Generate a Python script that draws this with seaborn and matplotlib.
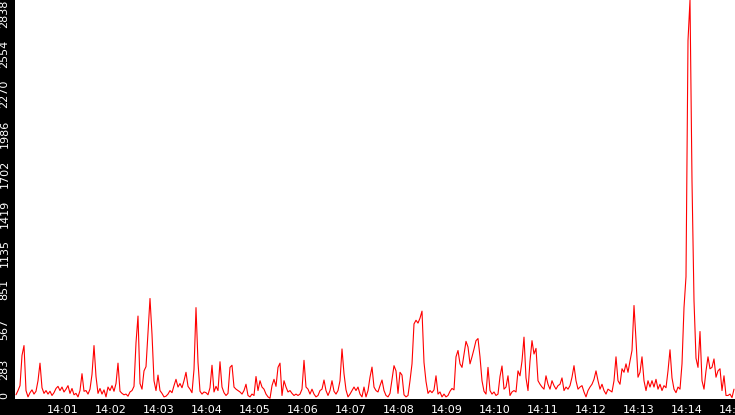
import numpy as np
import pandas as pd
import matplotlib
matplotlib.use('Agg')
import matplotlib.pyplot as plt
import matplotlib.dates as mdates
import seaborn as sns

# === DATA ===
# one sample every 2.5 s
values = [
    30, 60, 95, 310, 380,   60, 15, 45, 65, 35,   55, 130, 255, 80, 40,
    60, 35, 55, 25, 45,     75, 90, 60, 85, 50,   70, 95, 40, 75, 30,
    40, 15, 60, 180, 55,    60, 35, 70, 175, 380, 160, 40, 75, 35, 65,
    15, 85, 60, 95, 55,     110, 255, 55, 40, 30, 35, 20, 50, 60, 90,
    400, 590, 110, 70, 200, 230, 470, 715, 460, 130, 60, 170, 60, 40, 15,
    20, 35, 60, 45, 95,     140, 85, 110, 80, 130, 190, 90, 70, 45, 210,
    650, 260, 55, 35, 50,   45, 30, 80, 240, 50,  90, 60, 265, 85, 45,
    25, 40, 225, 240, 85,   70, 60, 50, 35, 60,   105, 25, 15, 35, 25,
    160, 60, 130, 85, 70,   35, 15, 5, 95, 140,   90, 225, 255, 25, 130,
    85, 50, 60, 40, 25,     35, 25, 35, 70, 275,  85, 70, 35, 70, 35,
    15, 25, 60, 70, 135,    60, 25, 60, 130, 55,  35, 60, 130, 356, 180,
    65, 15, 35, 60, 85,     60, 85, 35, 15, 85,   15, 60, 155, 227, 85,
    60, 50, 95, 135, 60,    25, 15, 40, 140, 237, 200, 40, 190, 170, 30,
    15, 25, 130, 250, 534,  560, 540, 575, 625, 260, 125, 40, 60, 45, 65,
    165, 35, 50, 15, 35,    15, 25, 55, 75, 65,   300, 345, 250, 225, 320,
    410, 370, 250, 300, 355, 415, 430, 300, 130, 55, 35, 225, 60, 35, 50,
    25, 35, 160, 235, 70,   85, 165, 25, 50, 60,  50, 200, 165, 270, 440,
    150, 60, 270, 415, 320, 360, 130, 105, 85, 70, 165, 105, 70, 130, 95,
    70, 95, 105, 150, 60,   85, 70, 95, 155, 237, 130, 70, 85, 95, 50,
    15, 60, 85, 105, 140,   200, 130, 70, 105, 60, 35, 70, 60, 50, 130,
    300, 130, 105, 215, 190, 250, 190, 270, 345, 665, 420, 155, 190, 300, 130,
    60, 130, 85, 130, 85,   140, 70, 105, 60, 95,  80, 200, 350, 150, 70,
    45, 85, 70, 250, 650,   870, 2550, 2838, 1550, 700, 290, 225, 480, 130, 70,
    200, 300, 215, 225, 285, 155, 200, 215, 60, 165, 25, 25, 35, 10, 70,
]
start = '2024-01-01 14:00:01.250'
step = '2500ms'
x_from = '2024-01-01 14:00:00'
x_to = '2024-01-01 14:15:00'
y_max = 2838

times = pd.date_range(start, periods=len(values), freq=step)
df = pd.DataFrame({'czas': times, 'wartosc': values})

y_ticks = np.linspace(0, y_max, 11)
y_labels = [str(int(v)) for v in y_ticks]
x_ticks = pd.date_range('2024-01-01 14:01', x_to, freq='1min')

# === WYKRES ===
sns.set_style('white')
plt.rcParams['font.family'] = ['Liberation Sans Narrow', 'DejaVu Sans']

fig = plt.figure(figsize=(7.35, 4.15), dpi=100, facecolor='black')
ax = fig.add_axes([15 / 735, 16 / 415, 720 / 735, 399 / 415])
ax.set_facecolor('white')

sns.lineplot(data=df, x='czas', y='wartosc', color='#ff0000', linewidth=0.8, ax=ax)

ax.set_xlim(pd.Timestamp(x_from), pd.Timestamp(x_to))
ax.set_ylim(0, y_max)
ax.set_xlabel('')
ax.set_ylabel('')
for s in ax.spines.values():
    s.set_visible(False)

ax.set_xticks(x_ticks)
ax.xaxis.set_major_formatter(mdates.DateFormatter('%H:%M'))
ax.set_yticks(y_ticks)
ax.set_yticklabels(y_labels, rotation=90, va='top')
ax.get_yticklabels()[0].set_va('bottom')

ax.tick_params(colors='white', direction='out', length=3.6, width=1,
               labelsize=8)
ax.tick_params(axis='y', pad=0.4)
ax.tick_params(axis='x', pad=0.6)

fig.savefig('out.png', dpi=100, facecolor='black')
